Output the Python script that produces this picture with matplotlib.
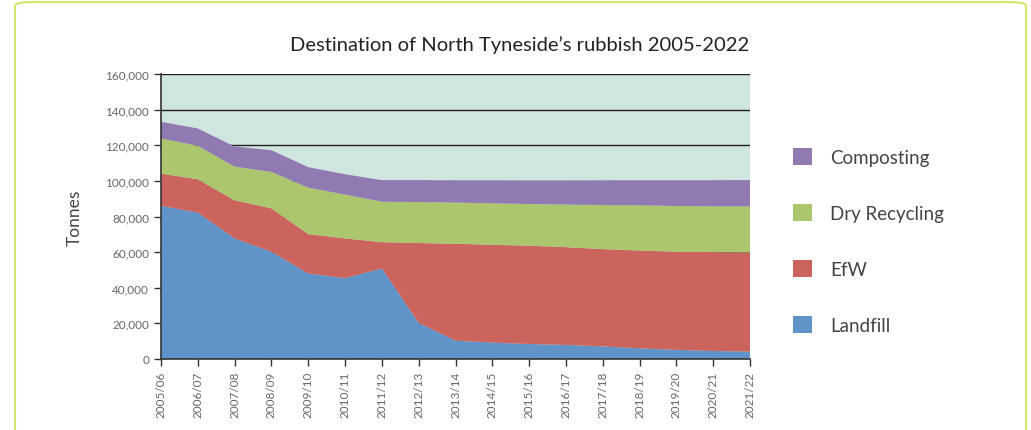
import matplotlib
matplotlib.use("Agg")
from matplotlib import pyplot as plt
from matplotlib.patches import FancyBboxPatch, Patch
import numpy as np

plt.rcParams['font.family'] = ['Lato', 'DejaVu Sans']

years = ["2005/06", "2006/07", "2007/08", "2008/09", "2009/10", "2010/11", "2011/12",
         "2012/13", "2013/14", "2014/15", "2015/16", "2016/17", "2017/18", "2018/19",
         "2019/20", "2020/21", "2021/22"]

# tonnes
landfill = [86000, 82200, 67700, 60200, 48000, 45400, 50800, 20300, 10300, 9200,
            8400, 7900, 7100, 6000, 5100, 4500, 4100]
efw = [18100, 18700, 21400, 24400, 22100, 22300, 14800, 44800, 54400, 54900,
       55200, 54900, 54600, 54900, 55100, 55500, 55700]
dry_recycling = [19700, 18800, 18900, 20400, 26100, 24600, 22700, 23000, 23100, 23300,
                 23400, 23900, 24700, 25400, 25700, 25700, 25900]
composting = [9400, 9700, 11300, 12200, 11500, 11400, 12100, 12300, 12400, 12800,
              13100, 13400, 13800, 14000, 14400, 14600, 14700]

labels = ["Landfill", "EfW", "Dry Recycling", "Composting"]
colors = ["#6093c8", "#cc645e", "#abc66d", "#9179b1"]

fig = plt.figure(figsize=(10.31, 4.31), dpi=100)

# rounded green frame
frame = FancyBboxPatch((15 / 1031, -10 / 431), 1011 / 1031, 438 / 431,
                       boxstyle="round,pad=0,rounding_size=0.02",
                       transform=fig.transFigure, facecolor="white",
                       edgecolor="#d6e46a", linewidth=1.5, zorder=-10,
                       mutation_aspect=431 / 1031)
fig.patches.append(frame)

ax = fig.add_axes([161 / 1031, (431 - 360) / 431, 589 / 1031, 285 / 431])
x = np.arange(len(years))
ax.stackplot(x, landfill, efw, dry_recycling, composting, colors=colors, zorder=2)

ax.set_facecolor("#cfe5df")
ax.set_xlim(0, len(years) - 1)
ax.set_ylim(0, 160000)
ax.set_yticks(range(0, 160001, 20000))
ax.set_yticklabels([f"{v:,}" for v in range(0, 160001, 20000)])
ax.yaxis.grid(True, color="#222222", linewidth=1.0, zorder=1)
ax.set_axisbelow(True)
ax.set_xticks(x)
ax.set_xticklabels(years, rotation=90)
ax.tick_params(axis="both", labelsize=8.5, colors="#666666", length=5, width=1)
ax.tick_params(axis="both", color="#333333")
for side in ["top", "right"]:
    ax.spines[side].set_visible(False)
for side in ["left", "bottom"]:
    ax.spines[side].set_color("#333333")
    ax.spines[side].set_linewidth(1.2)

ax.set_ylabel("Tonnes", fontsize=12.5, color="#444444", labelpad=16)
fig.text(520 / 1031, 1 - 45 / 431, "Destination of North Tyneside\u2019s rubbish 2005-2022",
         ha="center", va="center", fontsize=14.5, color="#222222")

handles = [Patch(facecolor=c) for c in colors[::-1]]
fig.legend(handles, labels[::-1], loc="center left", bbox_to_anchor=(776 / 1031, 1 - 242 / 431),
           frameon=False, fontsize=13.5, labelcolor="#444444", labelspacing=2.05,
           handlelength=1.0, handleheight=1.0, handletextpad=1.0)

fig.savefig("out.png", dpi=100)
